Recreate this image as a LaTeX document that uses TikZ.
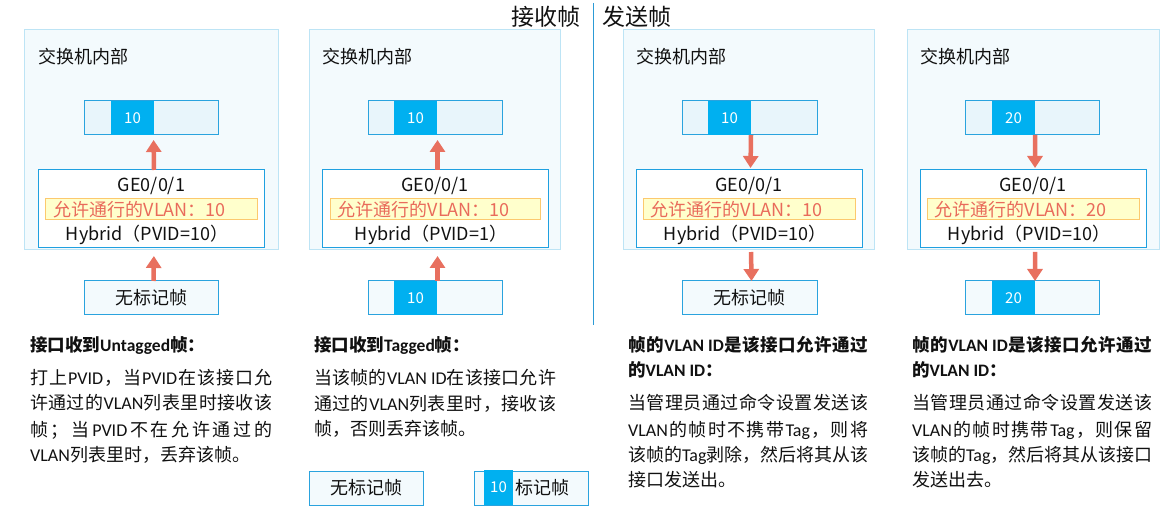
\documentclass[tikz,border=0pt]{standalone}
\usepackage{fontspec}
\usepackage{graphicx}
\setmainfont{Carlito}
\newfontfamily\cjfont{Noto Sans CJK SC}
\usetikzlibrary{arrows.meta}
\definecolor{outerfill}{HTML}{F3FAFD}
\definecolor{outerdraw}{HTML}{BDE4F5}
\definecolor{framefill}{HTML}{E8F5FB}
\definecolor{framedraw}{HTML}{2AA3DE}
\definecolor{tagblue}{HTML}{00B0F0}
\definecolor{portdraw}{HTML}{1FA0E0}
\definecolor{yelfill}{HTML}{FFFFCC}
\definecolor{yeldraw}{HTML}{FCC96E}
\definecolor{redtext}{HTML}{E96B5B}
\definecolor{arrred}{HTML}{E8705F}
\definecolor{vlinec}{HTML}{2C9BD6}
\definecolor{txt}{HTML}{111111}
% automatic CJK / Latin font switching with stretchable inter-character glue
\XeTeXinterchartokenstate=1
\newXeTeXintercharclass\cjcls
\newcount\cjc
\cjc="3000 \loop \XeTeXcharclass\cjc=\cjcls \advance\cjc by 1 \ifnum\cjc<"3040 \repeat
\cjc="4E00 \loop \XeTeXcharclass\cjc=\cjcls \advance\cjc by 1 \ifnum\cjc<"A000 \repeat
\cjc="FF00 \loop \XeTeXcharclass\cjc=\cjcls \advance\cjc by 1 \ifnum\cjc<"FFF0 \repeat
\XeTeXinterchartoks 0 \cjcls = {\hskip0pt plus 1fil\cjfont}
\XeTeXinterchartoks \cjcls 0 = {\hskip0pt plus 1fil\rmfamily}
\XeTeXinterchartoks \cjcls \cjcls = {\hskip0pt plus 1fil}
\XeTeXinterchartoks 4095 \cjcls = {\cjfont}
\XeTeXinterchartoks 4095 0 = {\rmfamily}
\newsavebox\jbox
\newcommand\jline[2]{\sbox\jbox{#2}\ifdim\wd\jbox>#1\relax\resizebox{#1}{\height}{\usebox\jbox}\else\makebox[#1][s]{#2}\fi}
\tikzset{
  outerbox/.style={draw=outerdraw, fill=outerfill, line width=1bp, inner sep=0, outer sep=0},
  framebox/.style={draw=framedraw, fill=framefill, line width=1bp, minimum width=134bp, minimum height=34bp, inner sep=0, outer sep=0},
  botbox/.style={framebox, fill=outerfill},
  tagblk/.style={fill=tagblue, minimum width=43bp, minimum height=34bp, inner sep=0, text=white, font={\XeTeXinterchartokenstate=0 \cjfont\fontsize{15bp}{18bp}\selectfont}},
  portbox/.style={draw=portdraw, fill=white, line width=1bp, minimum width=226bp, minimum height=78bp, inner sep=0, outer sep=0},
  yelbox/.style={draw=yeldraw, fill=yelfill, line width=1bp, minimum height=21bp, inner sep=0},
  porttxt/.style={inner sep=0, anchor=base, text=txt, font={\XeTeXinterchartokenstate=0 \cjfont\fontsize{18bp}{20bp}\selectfont}},
  redlab/.style={porttxt, anchor=west, text=redtext},
  labtxt/.style={inner sep=0, anchor=base west, text=txt, font={\XeTeXinterchartokenstate=0 \cjfont\fontsize{18bp}{20bp}\selectfont}},
  boxtxt/.style={inner sep=0, text=txt, font={\XeTeXinterchartokenstate=0 \cjfont\fontsize{18bp}{20bp}\selectfont}},
  titletxt/.style={inner sep=0, text=txt, font={\XeTeXinterchartokenstate=0 \cjfont\fontsize{23bp}{24bp}\selectfont}},
  bodytxt/.style={inner sep=0, anchor=base west, text=txt, font={\fontsize{18bp}{25bp}\selectfont}},
  headtxt/.style={bodytxt, font={\bfseries\fontsize{17.5bp}{25bp}\selectfont}},
  arr/.style={draw=arrred, line width=4.5bp, -{Triangle[width=15bp,length=12bp]}},
  vline/.style={draw=vlinec, line width=1bp}
}
\begin{document}
\begin{tikzpicture}[x=1bp,y=-1bp]
\useasboundingbox (0,0) rectangle (1176,512);
% titles and divider
\node[titletxt, anchor=east] (t1) at (581,17) {接收帧};
\node[titletxt, anchor=west] (t2) at (602,17) {发送帧};
\coordinate (vtop) at (593,3);
\coordinate (vbot) at (593,325);
\draw[vline] (vtop) -- (vbot);

% ---------- panel 1 ----------
\node[outerbox, minimum width=253bp, minimum height=220bp] (o1) at (151.5,140) {};
\node[labtxt] (l1) at (38,63.8) {交换机内部};
\node[framebox] (f1) at (151,118) {};
\node[tagblk] (g1) at (132.5,118) {10};
\node[portbox, minimum width=225bp] (p1) at (151.5,209) {};
\node[yelbox, minimum width=211bp] (y1) at (151.5,209.5) {};
\node[porttxt] (ge1) at (151.5,191.5) {GE0/0/1};
\node[redlab] (al1) at ([xshift=8bp]y1.west) {允许通行的VLAN：10};
\node[porttxt] (hy1) at (147,240.5) {Hybrid（PVID=10）};
\node[botbox, fill=outerfill] (b1) at (151,298) {};
\node[boxtxt] (bt1) at (151,298) {无标记帧};
\draw[arr, shorten >=5bp] ([xshift=2.5bp]p1.north) -- ([xshift=2.5bp]f1.south);
\draw[arr, shorten >=8bp] ([xshift=2.5bp]b1.north) -- ([xshift=2.5bp]p1.south);

% ---------- panel 2 ----------
\node[outerbox, minimum width=251bp, minimum height=220bp] (o2) at (434.5,140) {};
\node[labtxt] (l2) at (322,63.8) {交换机内部};
\node[framebox] (f2) at (435,118) {};
\node[tagblk] (g2) at (415.5,118) {10};
\node[portbox] (p2) at (435,209) {};
\node[yelbox, minimum width=210bp] (y2) at (435,209.5) {};
\node[porttxt] (ge2) at (435,191.5) {GE0/0/1};
\node[redlab] (al2) at ([xshift=8bp]y2.west) {允许通行的VLAN：10};
\node[porttxt] (hy2) at (431,240.5) {Hybrid（PVID=1）};
\node[botbox] (b2) at (435,298) {};
\node[tagblk] (bg2) at (415.5,298) {10};
\draw[arr, shorten >=5bp] ([xshift=2.5bp]p2.north) -- ([xshift=2.5bp]f2.south);
\draw[arr, shorten >=8bp] ([xshift=2.5bp]b2.north) -- ([xshift=2.5bp]p2.south);

% ---------- panel 3 ----------
\node[outerbox, minimum width=251bp, minimum height=220bp] (o3) at (748.5,140) {};
\node[labtxt] (l3) at (636,63.8) {交换机内部};
\node[framebox, minimum width=135bp] (f3) at (749.5,118) {};
\node[tagblk] (g3) at (729.5,118) {10};
\node[portbox] (p3) at (749,209) {};
\node[yelbox, minimum width=212bp] (y3) at (749,209.5) {};
\node[porttxt] (ge3) at (749,191.5) {GE0/0/1};
\node[redlab] (al3) at ([xshift=8bp]y3.west) {允许通行的VLAN：10};
\node[porttxt] (hy3) at (745,240.5) {Hybrid（PVID=10）};
\node[botbox, minimum width=135bp] (b3) at (749.5,298) {};
\node[boxtxt] (bt3) at (749.5,298) {无标记帧};
\draw[arr, shorten >=2bp] ([xshift=1.5bp]f3.south) -- ([xshift=1.5bp]p3.north);
\draw[arr, shorten <=4bp] ([xshift=2bp]p3.south) -- ([xshift=2bp]b3.north);

% ---------- panel 4 ----------
\node[outerbox, minimum width=252bp, minimum height=220bp] (o4) at (1033,140) {};
\node[labtxt] (l4) at (920,63.8) {交换机内部};
\node[framebox] (f4) at (1032,118) {};
\node[tagblk] (g4) at (1013.5,118) {20};
\node[portbox] (p4) at (1033,209) {};
\node[yelbox, minimum width=212bp] (y4) at (1033,209.5) {};
\node[porttxt] (ge4) at (1033,191.5) {GE0/0/1};
\node[redlab] (al4) at ([xshift=8bp]y4.west) {允许通行的VLAN：20};
\node[porttxt] (hy4) at (1029,240.5) {Hybrid（PVID=10）};
\node[botbox] (b4) at (1032,298) {};
\node[tagblk] (bg4) at (1013.5,298) {20};
\draw[arr, shorten >=2bp] ([xshift=3bp]f4.south) -- ([xshift=2bp]p4.north);
\draw[arr, shorten <=4bp] ([xshift=2bp]p4.south) -- ([xshift=3bp]b4.north);

% ---------- descriptions ----------
\node[headtxt] (h1) at (30,351.5) {接口收到Untagged帧：};
\node[bodytxt] (d11) at (30,384.8) {\jline{242bp}{打上PVID，当PVID在该接口允}};
\node[bodytxt] (d12) at (30,409.8) {\jline{242bp}{许通过的VLAN列表里时接收该}};
\node[bodytxt] (d13) at (30,436.3) {\jline{242bp}{帧；当PVID不在允许通过的}};
\node[bodytxt] (d14) at (30,461.8) {VLAN列表里时，丢弃该帧。};

\node[headtxt] (h2) at (314,351.5) {接口收到Tagged帧：};
\node[bodytxt] (d21) at (314,384.8) {\jline{242bp}{当该帧的VLAN ID在该接口允许}};
\node[bodytxt] (d22) at (314,410.3) {\jline{242bp}{通过的VLAN列表里时，接收该}};
\node[bodytxt] (d23) at (314,435.8) {帧，否则丢弃该帧。};

\node[headtxt] (h3) at (628,351.5) {\jline{240bp}{帧的VLAN ID是该接口允许通过}};
\node[headtxt] (h3b) at (628,376.5) {的VLAN ID：};
\node[bodytxt] (d31) at (628,409.8) {\jline{240bp}{当管理员通过命令设置发送该}};
\node[bodytxt] (d32) at (628,436.8) {\jline{240bp}{VLAN的帧时不携带Tag，则将}};
\node[bodytxt] (d33) at (628,461.8) {\jline{240bp}{该帧的Tag剥除，然后将其从该}};
\node[bodytxt] (d34) at (628,486.8) {接口发送出。};

\node[headtxt] (h4) at (912,351.5) {\jline{240bp}{帧的VLAN ID是该接口允许通过}};
\node[headtxt] (h4b) at (912,376.5) {的VLAN ID：};
\node[bodytxt] (d41) at (912,409.8) {\jline{240bp}{当管理员通过命令设置发送该}};
\node[bodytxt] (d42) at (912,436.8) {\jline{240bp}{VLAN的帧时携带Tag，则保留}};
\node[bodytxt] (d43) at (912,461.8) {\jline{240bp}{该帧的Tag，然后将其从该接口}};
\node[bodytxt] (d44) at (912,486.8) {发送出去。};

% ---------- legend ----------
\node[botbox, minimum width=114bp] (k1) at (366,488) {};
\node[boxtxt] (k1t) at (366,488) {无标记帧};
\node[botbox, minimum width=114bp] (k2) at (531,488) {};
\node[tagblk, minimum width=29bp, minimum height=35bp] (k2g) at (498.5,487.5) {10};
\node[boxtxt, anchor=west] (k2t) at (515,488) {标记帧};
\end{tikzpicture}
\end{document}
